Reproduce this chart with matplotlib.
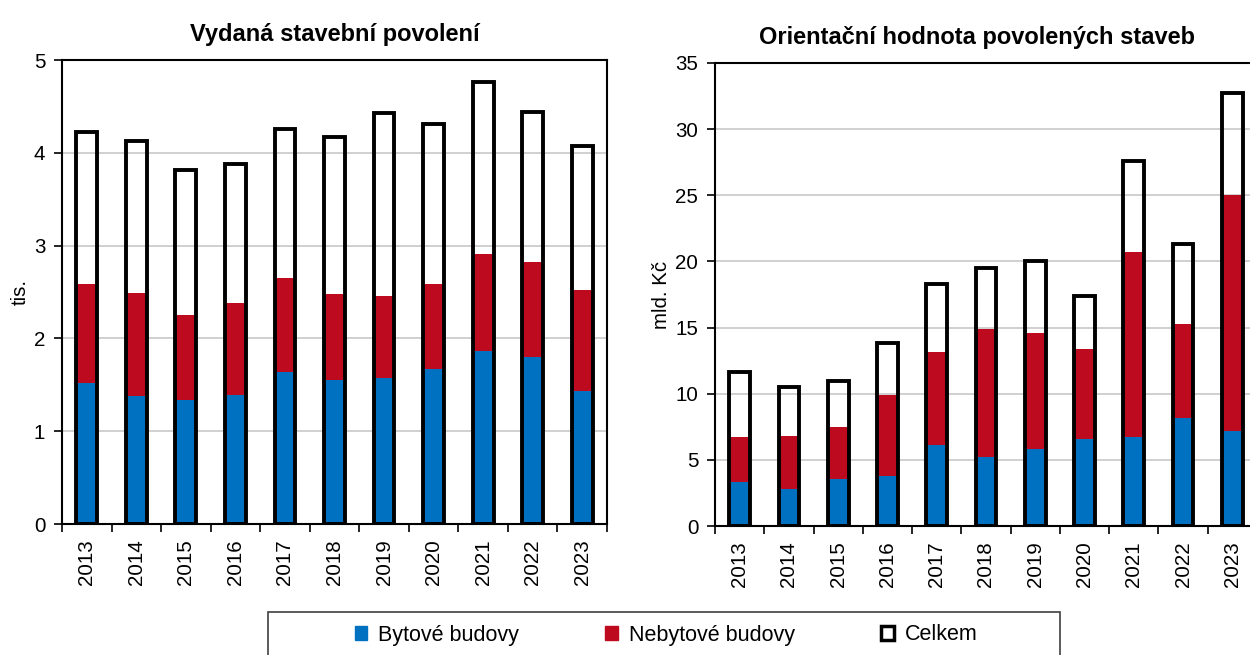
import matplotlib
matplotlib.use("Agg")
import matplotlib.pyplot as plt
from matplotlib.patches import Patch, Rectangle

plt.rcParams['font.family'] = ['Liberation Sans', 'DejaVu Sans']

years = ['2013', '2014', '2015', '2016', '2017', '2018',
         '2019', '2020', '2021', '2022', '2023']

# vydana stavebni povoleni (tis.)
pov_byt = [1.52, 1.38, 1.34, 1.39, 1.64, 1.55, 1.57, 1.67, 1.86, 1.80, 1.43]
pov_nebyt = [1.07, 1.11, 0.91, 0.99, 1.01, 0.93, 0.89, 0.92, 1.05, 1.02, 1.09]
pov_celkem = [4.22, 4.13, 3.81, 3.88, 4.26, 4.17, 4.43, 4.31, 4.76, 4.44, 4.07]

# orientacni hodnota (mld. Kc)
hod_byt = [3.36, 2.78, 3.53, 3.76, 6.11, 5.20, 5.81, 6.57, 6.72, 8.18, 7.17]
hod_nebyt = [3.38, 4.01, 3.92, 6.11, 7.07, 9.70, 8.79, 6.81, 13.96, 7.07, 17.88]
hod_celkem = [11.64, 10.48, 10.98, 13.86, 18.33, 19.47, 20.05, 17.37, 27.60, 21.29, 32.70]

BLUE = '#0070C0'
RED = '#BE0A1E'
FS = 14.8


def draw(ax, byt, nebyt, celkem, ymax, step, title, ylabel):
    x = range(len(years))
    w = 0.42
    ax.bar(x, byt, w, color=BLUE, zorder=2)
    ax.bar(x, nebyt, w, bottom=byt, color=RED, zorder=2)
    ax.bar(x, celkem, w, facecolor='none', edgecolor='black', linewidth=2.8, zorder=3)

    ax.set_xlim(-0.5, len(years) - 0.5)
    ax.set_ylim(0, ymax)
    ax.set_yticks([i * step for i in range(int(ymax / step) + 1)])
    ax.yaxis.grid(True, color='#c8c8c8', linewidth=1.2, zorder=0)
    ax.set_axisbelow(True)

    ax.set_xticks(list(x))
    ax.set_xticklabels(years, rotation=90, fontsize=FS)
    ax.tick_params(axis='x', length=0, pad=11)
    ax.set_xticks([i - 0.5 for i in range(len(years) + 1)], minor=True)
    ax.tick_params(axis='x', which='minor', length=6, width=1.2, direction='out')
    ax.tick_params(axis='y', labelsize=FS, length=6, width=1.2, direction='out', pad=6)

    for s in ax.spines.values():
        s.set_linewidth(1.5)
        s.set_color('black')
    ax.set_title(title, fontsize=17, fontweight='bold', pad=14)
    ax.set_ylabel(ylabel, fontsize=FS, labelpad=3)


fig = plt.figure(figsize=(12.5, 6.55), dpi=100)
ax1 = fig.add_axes([62 / 1250, 131 / 655, 545 / 1250, 464 / 655])
ax2 = fig.add_axes([715 / 1250, 129 / 655, 542 / 1250, 463 / 655])

draw(ax1, pov_byt, pov_nebyt, pov_celkem, 5, 1,
     'Vydaná stavební povolení', 'tis.')
draw(ax2, hod_byt, hod_nebyt, hod_celkem, 35, 5,
     'Orientační hodnota povolených staveb', 'mld. Kč')
ax2.title.set_position((0.483, 1.0))

# legend box
fig.patches.append(Rectangle((268 / 1250, -0.05), 792 / 1250, 43 / 655 + 0.05,
                             transform=fig.transFigure, facecolor='white',
                             edgecolor='#404040', linewidth=1.2))
handles = [
    Patch(facecolor=BLUE, edgecolor=BLUE, label='Bytové budovy'),
    Patch(facecolor=RED, edgecolor=RED, label='Nebytové budovy'),
    Patch(facecolor='white', edgecolor='black', linewidth=2.5, label='Celkem'),
]
fig.legend(handles=handles, loc='center', bbox_to_anchor=(666 / 1250, 1 - 635 / 655),
           ncol=3, frameon=False, fontsize=15.5, handlelength=0.6, handleheight=0.6,
           handletextpad=0.5, columnspacing=4.0)

fig.savefig('out.png', dpi=100)
